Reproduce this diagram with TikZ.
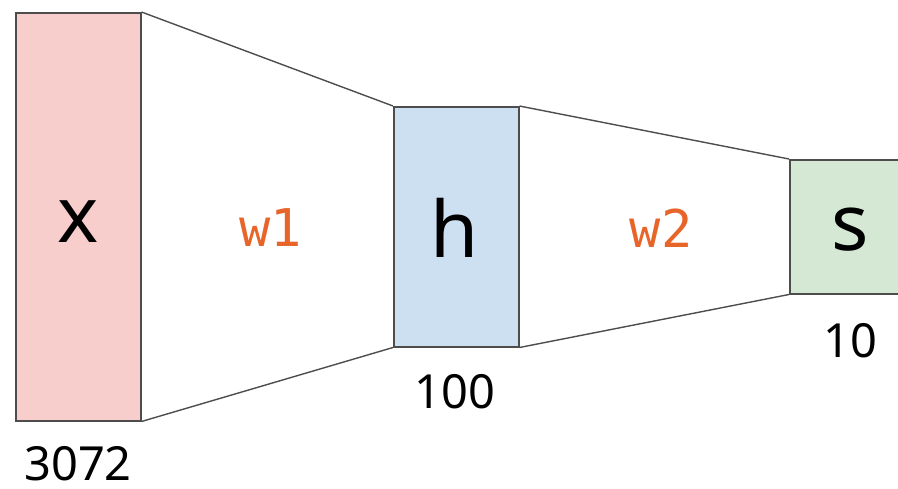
\documentclass[tikz,border=0pt]{standalone}
\usepackage{fontspec}
\setmainfont{Noto Sans}
\setmonofont{DejaVu Sans Mono}
\definecolor{pinkfill}{HTML}{F8CECC}
\definecolor{bluefill}{HTML}{CCE0F1}
\definecolor{greenfill}{HTML}{D5E8D4}
\definecolor{edgegray}{HTML}{4D4D4D}
\definecolor{wcol}{HTML}{E8652A}
\begin{document}
\begin{tikzpicture}[x=1pt,y=-1pt,
  layer/.style={draw=edgegray,line width=1.5pt,inner sep=0pt,anchor=north west},
  conn/.style={draw=edgegray,line width=1.4pt},
  bigtext/.style={font=\fontsize{78}{78}\selectfont,inner sep=0pt},
  dimlabel/.style={font=\fontsize{47}{47}\selectfont,inner sep=0pt,anchor=base,text height=34pt,text depth=0pt},
  wlabel/.style={font=\ttfamily\fontsize{52}{52}\selectfont,text=wcol,inner sep=0pt}]
\useasboundingbox (0,0) rectangle (898,488);
\node[layer,fill=pinkfill,minimum width=125pt,minimum height=408pt] (xb) at (15,12) {};
\node[layer,fill=bluefill,minimum width=125pt,minimum height=240pt] (hb) at (393,106) {};
\node[layer,fill=greenfill,minimum width=125pt,minimum height=134pt] (sb) at (789,159) {};
\node[bigtext] (xt) at (78,222) {x};
\node[bigtext] (ht) at (455,228) {h};
\node[bigtext] (st) at (850,230) {s};
\draw[conn] (xb.north east) -- (hb.north west);
\draw[conn] (xb.south east) -- (hb.south west);
\draw[conn] (hb.north east) -- (sb.north west);
\draw[conn] (hb.south east) -- (sb.south west);
\node[wlabel] (w1) at (271,228) {w1};
\node[wlabel] (w2) at (661,228) {w2};
\node[dimlabel] (l1) at (78,480) {3072};
\node[dimlabel] (l2) at (455,408) {100};
\node[dimlabel] (l3) at (850,357) {10};
\end{tikzpicture}
\end{document}
